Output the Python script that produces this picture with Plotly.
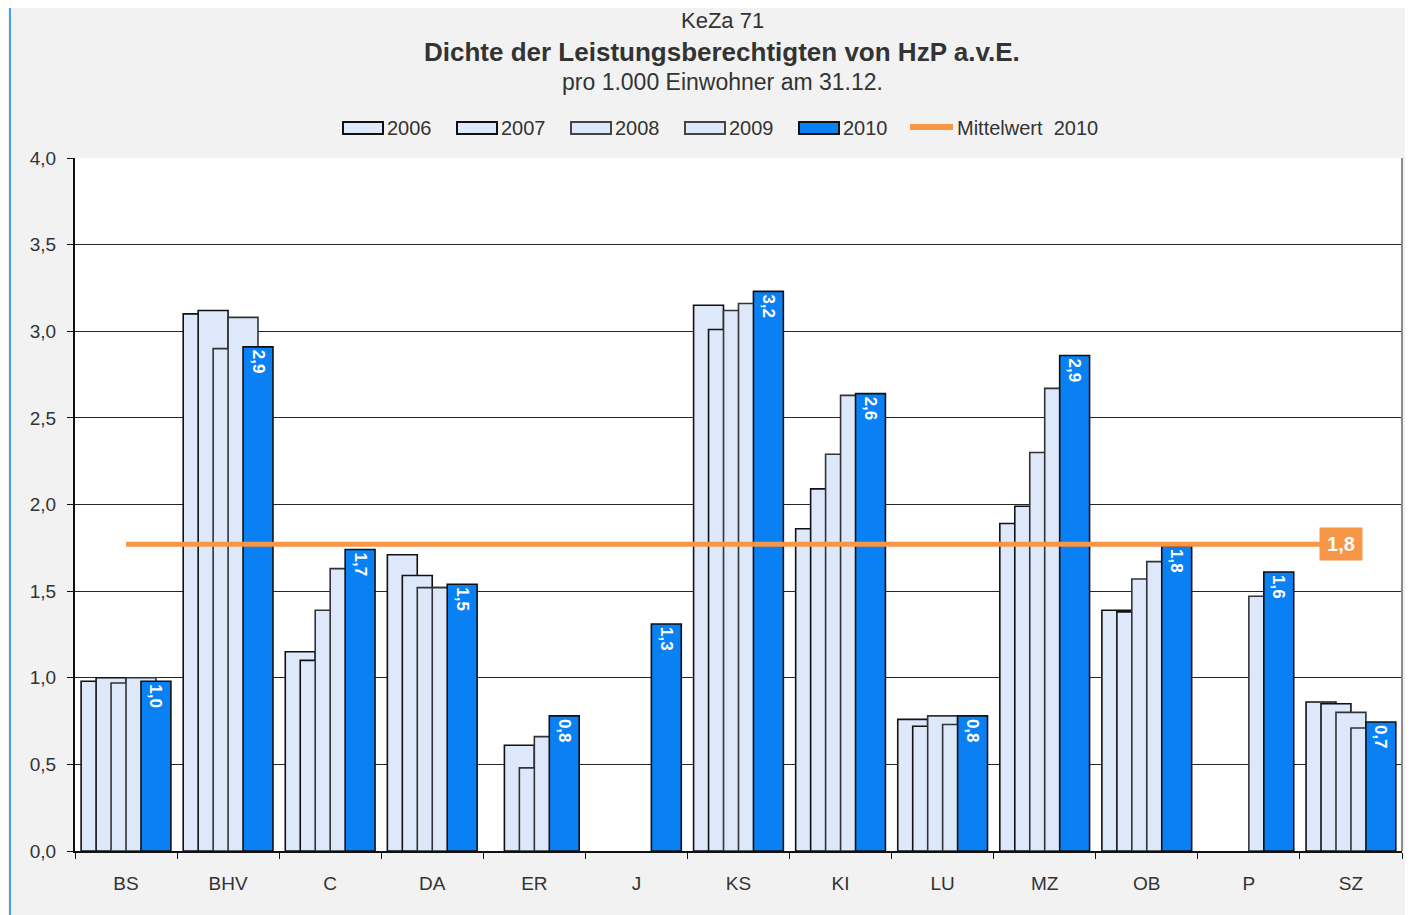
import plotly.graph_objects as go

# Kommunen (KeZa 71)
staedte = ["BS", "BHV", "C", "DA", "ER", "J", "KS", "KI", "LU", "MZ", "OB", "P", "SZ"]

# Dichte je 1.000 Einwohner (None = kein Wert)
werte_2006 = [0.98, 3.10, 1.15, 1.71, None, None, 3.15, 1.86, 0.76, 1.89, 1.39, None, 0.86]
werte_2007 = [1.00, 3.12, 1.10, 1.59, 0.61, None, 3.01, 2.09, 0.72, 1.99, 1.38, None, 0.85]
werte_2008 = [0.97, 2.90, 1.39, 1.52, 0.48, None, 3.12, 2.29, 0.78, 2.30, 1.57, None, 0.80]
werte_2009 = [1.00, 3.08, 1.63, 1.52, 0.66, None, 3.16, 2.63, 0.73, 2.67, 1.67, 1.47, 0.71]
werte_2010 = [0.98, 2.91, 1.74, 1.54, 0.78, 1.31, 3.23, 2.64, 0.78, 2.86, 1.76, 1.61, 0.745]
mittelwert_2010 = 1.77

jahre = ["2006", "2007", "2008", "2009", "2010"]
reihen = [werte_2006, werte_2007, werte_2008, werte_2009, werte_2010]

hell = "#dde8fa"
blau = "#0a80f5"
orange = "#f79646"
text_farbe = "#333333"
font = "Liberation Sans, Arial, sans-serif"

# Seite hat 8px Rand (body margin) -> Plotbereich auf dem Bildschirm: x 75..1402, y 158..851
L, R, T, B = 75, 1402, 158, 851

def px(x):
    return (x - L) / (R - L)

def py(y):
    return (B - y) / (B - T)

def de(v):
    return f"{v:.1f}".replace(".", ",")

fig = go.Figure()

breite = 0.293
schritt = 0.1466
for i, (jahr, werte) in enumerate(zip(jahre, reihen)):
    ist_2010 = jahr == "2010"
    fig.add_trace(go.Bar(
        x=staedte, y=werte, name=jahr, showlegend=False,
        width=breite, offset=-0.44 + i * schritt,
        marker=dict(color=blau if ist_2010 else hell,
                    line=dict(color="#111111" if i < 2 or ist_2010 else "#333333", width=1.6)),
        text=[de(v) if v is not None else "" for v in werte] if ist_2010 else None,
        textposition="inside" if ist_2010 else "none",
        insidetextanchor="end",
        textangle=90,
        textfont=dict(color="white", size=17, family=font, weight="bold"),
        constraintext="none",
        cliponaxis=False,
    ))

# Mittelwert-Linie
fig.add_trace(go.Scatter(
    x=staedte, y=[mittelwert_2010] * len(staedte), name="Mittelwert 2010", showlegend=False,
    mode="lines", line=dict(color=orange, width=5),
))

fig.add_annotation(
    x=staedte[-1], y=mittelwert_2010, text=de(mittelwert_2010), showarrow=False,
    xshift=-10, bgcolor=orange, borderpad=5, width=32, height=22,
    font=dict(color="white", size=20, family=font, weight="bold"),
)

# Titel
titel_x = px(722)
fig.add_annotation(x=titel_x, y=py(20), xref="paper", yref="paper", yanchor="middle",
                   text="KeZa 71", showarrow=False, font=dict(size=22, color=text_farbe, family=font))
fig.add_annotation(x=titel_x, y=py(52), xref="paper", yref="paper", yanchor="middle",
                   text="<b>Dichte der Leistungsberechtigten von HzP a.v.E.</b>", showarrow=False,
                   font=dict(size=26, color=text_farbe, family=font))
fig.add_annotation(x=titel_x, y=py(82), xref="paper", yref="paper", yanchor="middle",
                   text="pro 1.000 Einwohner am 31.12.", showarrow=False,
                   font=dict(size=23, color=text_farbe, family=font))

# Legende (von Hand, breite Rechtecke wie im Original)
leg_y = 128
for i, jahr in enumerate(jahre):
    x0 = 343 + i * 114
    fig.add_shape(type="rect", xref="paper", yref="paper",
                  x0=px(x0), x1=px(x0 + 40), y0=py(leg_y + 6), y1=py(leg_y - 6),
                  fillcolor=blau if jahr == "2010" else hell,
                  line=dict(color="#111111" if i < 2 or jahr == "2010" else "#444444", width=2))
    fig.add_annotation(x=px(x0 + 42), y=py(leg_y), xref="paper", yref="paper",
                       xanchor="left", yanchor="middle", text=jahr, showarrow=False,
                       font=dict(size=20, color=text_farbe, family=font))
fig.add_shape(type="line", xref="paper", yref="paper", x0=px(910), x1=px(953),
              y0=py(leg_y - 1), y1=py(leg_y - 1), line=dict(color=orange, width=6))
fig.add_annotation(x=px(955), y=py(leg_y), xref="paper", yref="paper",
                   xanchor="left", yanchor="middle", text="Mittelwert  2010", showarrow=False,
                   font=dict(size=20, color=text_farbe, family=font))

# Rahmen rechts, blaue Kante links
fig.add_shape(type="line", xref="paper", yref="paper", x0=1, x1=1, y0=0, y1=1,
              line=dict(color="#8c8c8c", width=2))
fig.add_shape(type="line", xref="paper", yref="paper", x0=px(10), x1=px(10), y0=py(920), y1=py(8),
              line=dict(color="#4a9ff5", width=2))

fig.update_layout(
    width=1405, height=907,
    margin=dict(l=L - 8, r=1405 - (R - 8), t=T - 8, b=907 - (B - 8)),
    paper_bgcolor="#f2f2f2", plot_bgcolor="white",
    barmode="overlay",
    separators=",.",
    font=dict(family=font, color=text_farbe),
    showlegend=False,
    xaxis=dict(type="category", showgrid=False, showline=True, linecolor="#111111", linewidth=2,
               ticks="outside", tickson="boundaries", ticklen=6, tickcolor="#111111",
               tickfont=dict(size=19, color=text_farbe), ticklabelstandoff=14,
               range=[-0.5, len(staedte) - 0.5], automargin=False),
    yaxis=dict(range=[0, 4], dtick=0.5, tickformat=".1f", showgrid=True, gridcolor="#262626",
               gridwidth=1.3, showline=True, linecolor="#111111", linewidth=2, zeroline=False,
               ticks="outside", ticklen=6, tickcolor="#111111",
               tickfont=dict(size=19, color=text_farbe), ticklabelstandoff=7, automargin=False),
)

fig.write_html("out.html")
